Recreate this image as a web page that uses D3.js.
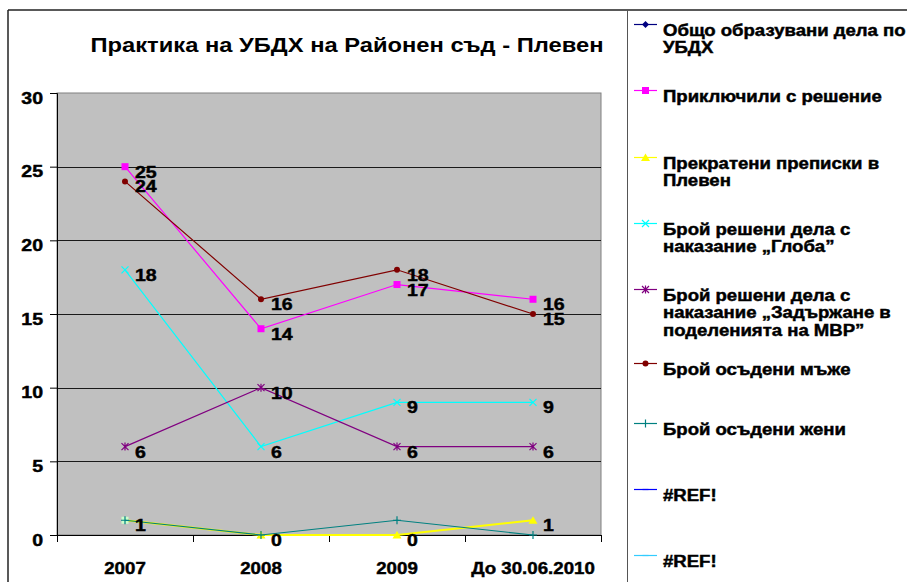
<!DOCTYPE html>
<html>
<head>
<meta charset="utf-8">
<script src="https://cdn.jsdelivr.net/npm/d3@7"></script>
<style>
  html, body { margin: 0; padding: 0; background: #fff; }
  svg { display: block; }
  text { font-family: "Liberation Sans", Arial, sans-serif; font-weight: bold; fill: #000; }
  .heavy { stroke: #000; stroke-width: 0.45px; }
</style>
</head>
<body>
<svg id="chart" width="907" height="582"></svg>
<script>
// ---- data ----
const categories = ["2007", "2008", "2009", "До 30.06.2010"];
const yTicks = [0, 5, 10, 15, 20, 25, 30];
const obshtoObrazuvani = [null, null, null, null];
const priklyuchiliSReshenie = [25, 14, 17, 16];
const prekrateniPrepiski = [1, 0, 0, 1];
const resheniGloba = [18, 6, 9, 9];
const resheniZadarzhane = [6, 10, 6, 6];
const osadeniMazhe = [24, 16, 18, 15];
const osadeniZheni = [1, 0, 1, 0];
const ref1 = [null, null, null, null];
const ref2 = [null, null, null, null];
const chartTitle = "Практика на УБДХ на Районен съд - Плевен";

const seriesNames = [
  ["Общо образувани дела по", "УБДХ"],
  ["Приключили с решение"],
  ["Прекратени преписки в", "Плевен"],
  ["Брой решени дела с", "наказание „Глоба”"],
  ["Брой решени дела с", "наказание „Задържане в", "поделенията на МВР”"],
  ["Брой осъдени мъже"],
  ["Брой осъдени жени"],
  ["#REF!"],
  ["#REF!"]
];
const seriesValues = [obshtoObrazuvani, priklyuchiliSReshenie, prekrateniPrepiski, resheniGloba,
  resheniZadarzhane, osadeniMazhe, osadeniZheni, ref1, ref2];

// ---- styles ----
const styles = [
  {color: "#000080", marker: "diamond", labels: false},
  {color: "#FF00FF", marker: "square", labels: true},
  {color: "#FFFF00", marker: "triangle", labels: true},
  {color: "#00FFFF", marker: "x", labels: true},
  {color: "#800080", marker: "star", labels: true},
  {color: "#800000", marker: "circle", labels: true},
  {color: "#008080", marker: "plus", labels: false},
  {color: "#0000FF", marker: "dash", labels: false},
  {color: "#33CCFF", marker: "dash", labels: false}
];
const drawOrder = [0, 1, 2, 3, 4, 5, 6, 7, 8];
const SX = 1.15; // horizontal stretch of the bold texts

const svg = d3.select("#chart");
const plot = {left: 57, right: 601, top: 93, bottom: 535};

function stretchedText(parent, tx, ty, sx, size, anchor, str) {
  return parent.append("text")
    .attr("transform", `translate(${tx},${ty}) scale(${sx},1)`)
    .attr("text-anchor", anchor)
    .style("font-size", size + "px")
    .text(str);
}

// outer frame
svg.append("line").attr("x1", 8).attr("x2", 907).attr("y1", 10).attr("y2", 10).attr("stroke", "#222").attr("stroke-width", 1.5);
svg.append("line").attr("x1", 8).attr("x2", 8).attr("y1", 10).attr("y2", 582).attr("stroke", "#222").attr("stroke-width", 1.5);
svg.append("line").attr("x1", 627.5).attr("x2", 627.5).attr("y1", 10).attr("y2", 582).attr("stroke", "#555").attr("stroke-width", 1);

// title
stretchedText(svg, 347, 52, 1.13, 21, "middle", chartTitle);

const x = d3.scaleBand().domain(categories).range([plot.left, plot.right]).padding(0);
const cx = c => x(c) + x.bandwidth() / 2;
const y = d3.scaleLinear().domain([0, 30]).range([plot.bottom, plot.top]);

// plot area
svg.append("rect").attr("x", plot.left).attr("y", plot.top)
  .attr("width", plot.right - plot.left).attr("height", plot.bottom - plot.top)
  .attr("fill", "#C0C0C0").attr("stroke", "#808080").attr("stroke-width", 1);

// gridlines
svg.append("g").selectAll("line").data(yTicks.filter(t => t > 0 && t < 30)).join("line")
  .attr("x1", plot.left).attr("x2", plot.right)
  .attr("y1", d => Math.round(y(d)) + 0.5).attr("y2", d => Math.round(y(d)) + 0.5)
  .attr("stroke", "#1a1a1a").attr("stroke-width", 1);

// y axis
const yAxis = d3.axisLeft(y).tickValues(yTicks).tickSize(7).tickPadding(7).tickFormat(d3.format("d"));
const gy = svg.append("g").attr("transform", `translate(${plot.left},0)`).call(yAxis);
gy.select(".domain").attr("stroke", "#000");
gy.selectAll(".tick line").attr("stroke", "#000");
gy.selectAll(".tick text")
  .attr("font-family", null).attr("font-size", null)
  .style("font-size", "17px")
  .attr("x", 0).attr("dy", null)
  .attr("transform", `translate(-14,10) scale(${SX},1)`)
  .classed("heavy", true);

// x axis
const gx = svg.append("g");
gx.append("line").attr("x1", plot.left).attr("x2", plot.right).attr("y1", plot.bottom + 0.5).attr("y2", plot.bottom + 0.5).attr("stroke", "#000");
const tickXs = categories.map(c => x(c)).concat([x(categories[categories.length - 1]) + x.bandwidth()]);
gx.selectAll("line.tk").data(tickXs).join("line").attr("class", "tk")
  .attr("x1", d => Math.round(d) + 0.5).attr("x2", d => Math.round(d) + 0.5)
  .attr("y1", plot.bottom).attr("y2", plot.bottom + 7).attr("stroke", "#000");
categories.forEach(c => {
  stretchedText(gx, cx(c), 574, 1.1, 17, "middle", c).classed("heavy", true);
});

// markers
function markerPath(type) {
  switch (type) {
    case "square": return "M-3.5,-3.5H3.5V3.5H-3.5Z";
    case "circle": return d3.symbol(d3.symbolCircle, 28)();
    case "triangle": return "M0,-4L4.5,3.5H-4.5Z";
    case "diamond": return "M0,-3.5L3.5,0L0,3.5L-3.5,0Z";
    case "x": return "M-3.5,-3.5L3.5,3.5M-3.5,3.5L3.5,-3.5";
    case "star": return "M-3.5,-3.5L3.5,3.5M-3.5,3.5L3.5,-3.5M0,-4V4";
    case "plus": return "M-4,0H4M0,-4V4";
    case "dash": return "M-3,0H3";
  }
}
const strokeMarkers = new Set(["x", "star", "plus", "dash"]);

const line = d3.line().defined(d => d.v != null).x(d => cx(d.c)).y(d => y(d.v));
const gSeries = svg.append("g");
drawOrder.forEach(i => {
  const st = styles[i];
  const pts = categories.map((c, j) => ({c, v: seriesValues[i][j]}));
  const g = gSeries.append("g");
  g.append("path").datum(pts).attr("d", line).attr("fill", "none")
    .attr("stroke", st.color).attr("stroke-width", i === 2 ? 2 : 1.2);
  const valid = pts.filter(d => d.v != null);
  const firstYellow = d => i === 2 && d.c === categories[0];
  g.selectAll("path.m").data(valid).join("path").attr("class", "m")
    .attr("transform", d => `translate(${cx(d.c)},${y(d.v)})`)
    .attr("d", d => firstYellow(d) ? markerPath("square") : markerPath(st.marker))
    .attr("fill", d => strokeMarkers.has(st.marker) ? "none" : (firstYellow(d) ? "#CCFFCC" : st.color))
    .attr("stroke", st.color).attr("stroke-width", strokeMarkers.has(st.marker) ? 1.2 : 0);
});
// data labels
drawOrder.forEach(i => {
  const st = styles[i];
  if (!st.labels) return;
  const pts = categories.map((c, j) => ({c, v: seriesValues[i][j]})).filter(d => d.v != null);
  const g = gSeries.append("g");
  pts.forEach(d => {
    stretchedText(g, cx(d.c) + 10, y(d.v) + 11, SX, 17, "start", d.v).classed("heavy", true);
  });
});

// legend
const legendY = [24, 90, 157, 223, 289, 363, 423, 489, 555];
const lg = svg.append("g");
seriesNames.forEach((lines, i) => {
  const st = styles[i];
  const ly = legendY[i];
  lg.append("line").attr("x1", 634).attr("x2", 657).attr("y1", ly + 0.5).attr("y2", ly + 0.5)
    .attr("stroke", st.color).attr("stroke-width", 1.2);
  lg.append("path").attr("transform", `translate(645.5,${ly + 0.5})`).attr("d", markerPath(st.marker))
    .attr("fill", strokeMarkers.has(st.marker) ? "none" : st.color)
    .attr("stroke", st.color).attr("stroke-width", strokeMarkers.has(st.marker) ? 1.2 : 0);
  const t = lg.append("text")
    .attr("transform", `translate(663,${ly + 11.5}) scale(1.16,1)`)
    .style("font-size", "16px").classed("heavy", true);
  lines.forEach((s, k) => {
    t.append("tspan").attr("x", 0).attr("dy", k === 0 ? 0 : 18).text(s);
  });
});
</script>
</body>
</html>
